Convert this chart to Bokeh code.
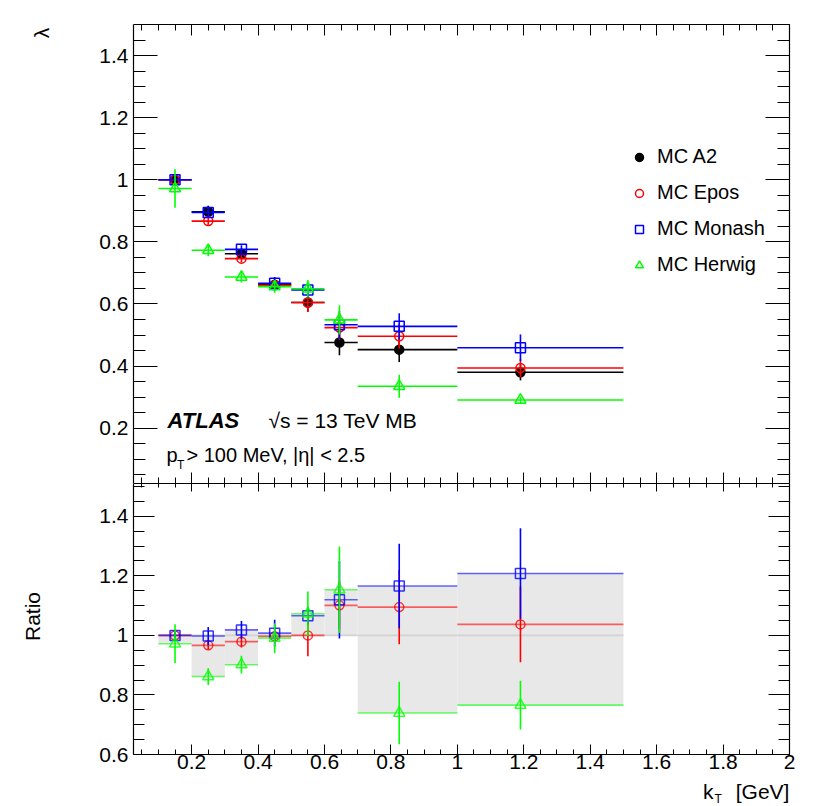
from math import pi
from bokeh.plotting import figure
from bokeh.models import (Range1d, LinearAxis, SingleIntervalTicker, CustomJSTickFormatter,
                          Label, Legend, LegendItem, ColumnDataSource)
from bokeh.layouts import column, row
from bokeh.embed import file_html
from bokeh.resources import INLINE

# ---------------- data ----------------
bin_lo = [0.1, 0.2, 0.3, 0.4, 0.5, 0.6, 0.7, 1.0]
bin_hi = [0.2, 0.3, 0.4, 0.5, 0.6, 0.7, 1.0, 1.5]
kt_mean = [0.15, 0.25, 0.35, 0.45, 0.55, 0.645, 0.825, 1.19]

a2 = [1.000, 0.897, 0.762, 0.662, 0.605, 0.476, 0.453, 0.380]
a2_err = [0.008, 0.019, 0.012, 0.015, 0.030, 0.041, 0.040, 0.026]
epos = [1.000, 0.867, 0.746, 0.660, 0.605, 0.524, 0.496, 0.394]
epos_err = [0.008, 0.012, 0.012, 0.015, 0.030, 0.040, 0.040, 0.030]
monash = [1.000, 0.895, 0.776, 0.667, 0.645, 0.533, 0.528, 0.459]
monash_err = [0.008, 0.015, 0.013, 0.020, 0.025, 0.045, 0.042, 0.043]
herwig = [0.972, 0.773, 0.687, 0.656, 0.649, 0.549, 0.335, 0.291]
herwig_err = [0.062, 0.019, 0.018, 0.020, 0.028, 0.047, 0.037, 0.010]

epos_ratio_err = [0.010, 0.015, 0.020, 0.015, 0.070, 0.080, 0.125, 0.127]
monash_ratio_err = [0.012, 0.030, 0.030, 0.045, 0.030, 0.130, 0.142, 0.152]
herwig_ratio_err = [0.065, 0.028, 0.030, 0.050, 0.075, 0.145, 0.105, 0.082]

labels = ["MC A2", "MC Epos", "MC Monash", "MC Herwig"]

# ---------------- style ----------------
FONT = "Liberation Sans"
TICK_FS = "21px"
SIDE_W = 60
W = 754
XR = (0.025, 2.0)
TOP_YR = (0.022, 1.5)
RAT_YR = (0.6, 1.51)

styles = {
    "MC A2": dict(color="black", marker="circle", fill="black", size=9),
    "MC Epos": dict(color="#ff0000", marker="circle", fill=None, size=9),
    "MC Monash": dict(color="#0000ff", marker="square", fill=None, size=10),
    "MC Herwig": dict(color="#00ff00", marker="triangle", fill=None, size=11),
}


def fmt():
    return CustomJSTickFormatter(
        code="var s = tick.toFixed(1); return s.endsWith('.0') ? s.slice(0, -2) : s;")


def add_axis(p, side, tin, tmin, show_labels, standoff=5):
    ax = LinearAxis(ticker=SingleIntervalTicker(interval=0.2, num_minor_ticks=4),
                    formatter=fmt() if show_labels else CustomJSTickFormatter(code="return '';"))
    ax.major_tick_in = tin
    ax.major_tick_out = 0
    ax.minor_tick_in = tmin
    ax.minor_tick_out = 0
    ax.axis_line_color = "black"
    ax.major_tick_line_color = "black"
    ax.minor_tick_line_color = "black"
    ax.axis_line_width = 1.2
    if show_labels:
        ax.major_label_text_font = FONT
        ax.major_label_text_font_size = TICK_FS
        ax.major_label_text_color = "black"
        ax.major_label_standoff = standoff
    else:
        ax.major_label_text_font_size = "1px"
        ax.major_label_standoff = 0
    p.add_layout(ax, side)
    return ax


def bare(p):
    p.outline_line_color = None
    p.xgrid.visible = False
    p.ygrid.visible = False
    p.background_fill_color = "white"
    p.border_fill_color = "white"
    return p


def make_fig(height, yr, top, bottom):
    p = figure(width=W, height=height, x_range=Range1d(*XR), y_range=Range1d(*yr),
               output_backend="svg", toolbar_location=None,
               x_axis_location=None, y_axis_location=None,
               min_border_left=133 - SIDE_W, min_border_right=25,
               min_border_top=top, min_border_bottom=bottom)
    return bare(p)


def xd(px):
    return XR[0] + (px - 133) / 332.2


def yt(py):
    return TOP_YR[1] - (py - 24.3) / 310.6


def txt(p, x, y, text, size, **kw):
    p.add_layout(Label(x=x, y=y, text=text, text_font=FONT, text_font_size=size,
                       text_color="black", text_baseline="middle", **kw))


# ---------------- top panel ----------------
p1 = make_fig(483, TOP_YR, 24, 0)
add_axis(p1, "below", 11, 6, False)
add_axis(p1, "above", 11, 6, False)
add_axis(p1, "left", 24, 12, True)
add_axis(p1, "right", 24, 12, False)

values = {"MC A2": (a2, a2_err), "MC Epos": (epos, epos_err),
          "MC Monash": (monash, monash_err), "MC Herwig": (herwig, herwig_err)}

legend_items = []
for name in labels:
    v, e = values[name]
    st = styles[name]
    src = ColumnDataSource(dict(lo=bin_lo, hi=bin_hi, x=kt_mean, y=v,
                                ylo=[a - b for a, b in zip(v, e)],
                                yhi=[a + b for a, b in zip(v, e)]))
    p1.segment(x0="lo", x1="hi", y0="y", y1="y", source=src, line_color=st["color"], line_width=1.6)
    p1.segment(x0="x", x1="x", y0="ylo", y1="yhi", source=src, line_color=st["color"], line_width=1.6)
    r = p1.scatter(x="x", y="y", source=src, marker=st["marker"], size=st["size"],
                   line_color=st["color"], fill_color=st["fill"], line_width=1.5)
    legend_items.append(LegendItem(label=name, renderers=[r]))

leg = Legend(items=legend_items, location=(496, 207), orientation="vertical",
             label_text_font=FONT, label_text_font_size="20px", label_text_color="black",
             glyph_width=20, glyph_height=20, label_height=20, spacing=13, label_standoff=8,
             padding=10, margin=0, border_line_color=None, background_fill_alpha=0)
p1.add_layout(leg)

# vertical centres of the text lines (page pixels)
txt(p1, xd(167), yt(420.2), "ATLAS", "22px", text_font_style="bold italic")
txt(p1, xd(268), yt(420.5), "√s = 13 TeV MB", "21px")
txt(p1, xd(166), yt(455.1), "p", "20px")
txt(p1, xd(176.5), yt(465), "T", "12px")
txt(p1, xd(186), yt(455.1), "> 100 MeV, |η| < 2.5", "20px")

# ---------------- ratio panel ----------------
p2 = make_fig(295, RAT_YR, 0, 24)
add_axis(p2, "below", 10, 5, True, standoff=0)
add_axis(p2, "above", 8, 4, False)
add_axis(p2, "left", 21, 11, True)
add_axis(p2, "right", 21, 11, False)

ratio_series = {"MC Epos": (epos, epos_ratio_err), "MC Monash": (monash, monash_ratio_err),
                "MC Herwig": (herwig, herwig_ratio_err)}
ratios = {n: [a / b for a, b in zip(v, a2)] for n, (v, _) in ratio_series.items()}
band_lo = [min([1.0] + [ratios[n][i] for n in ratios]) for i in range(len(a2))]
band_hi = [max([1.0] + [ratios[n][i] for n in ratios]) for i in range(len(a2))]

p2.quad(left=bin_lo, right=bin_hi, bottom=band_lo, top=band_hi,
        fill_color="#e8e8e8", line_color=None)
p2.segment(x0=bin_lo, x1=bin_hi, y0=[a / a for a in a2], y1=[a / a for a in a2],
           line_color="#d2d2d2", line_width=1.6)

for name in ["MC Epos", "MC Monash", "MC Herwig"]:
    r = ratios[name]
    e = ratio_series[name][1]
    st = styles[name]
    src = ColumnDataSource(dict(lo=bin_lo, hi=bin_hi, x=kt_mean, y=r,
                                ylo=[a - b for a, b in zip(r, e)],
                                yhi=[a + b for a, b in zip(r, e)]))
    p2.segment(x0="lo", x1="hi", y0="y", y1="y", source=src, line_color=st["color"],
               line_width=1.6, line_alpha=0.6)
    p2.segment(x0="x", x1="x", y0="ylo", y1="yhi", source=src, line_color=st["color"],
               line_width=1.6)
    p2.scatter(x="x", y="y", source=src, marker=st["marker"], size=st["size"],
               line_color=st["color"], fill_color=st["fill"], line_width=1.5, line_alpha=0.8)

# ---------------- x-axis title strip (page y 778 .. 806) ----------------
H3 = 28
p3 = figure(width=W, height=H3, x_range=Range1d(*XR), y_range=Range1d(0, H3),
            output_backend="svg", toolbar_location=None,
            x_axis_location=None, y_axis_location=None,
            min_border_left=133 - SIDE_W, min_border_right=25, min_border_top=0, min_border_bottom=0)
bare(p3)
txt(p3, xd(789), 806 - 791.0, "[GeV]", "21px", text_align="right")
txt(p3, xd(713), 806 - 791.0, "k", "21px", text_align="right")
txt(p3, xd(714), 806 - 798.5, "T", "12px", text_align="left")

# ---------------- left strip for the rotated axis titles ----------------
side = figure(width=SIDE_W, height=806, x_range=Range1d(0, SIDE_W), y_range=Range1d(0, 806),
              output_backend="svg", toolbar_location=None,
              x_axis_location=None, y_axis_location=None,
              min_border_left=0, min_border_right=0, min_border_top=0, min_border_bottom=0)
bare(side)
txt(side, 41, 806 - 32.5, "λ", "21px", angle=pi / 2, text_align="center")
txt(side, 32, 806 - 616, "Ratio", "21px", angle=pi / 2, text_align="center")

layout = row(side, column(p1, p2, p3, spacing=0), spacing=0)
open("out.html", "w").write(file_html(layout, INLINE))
